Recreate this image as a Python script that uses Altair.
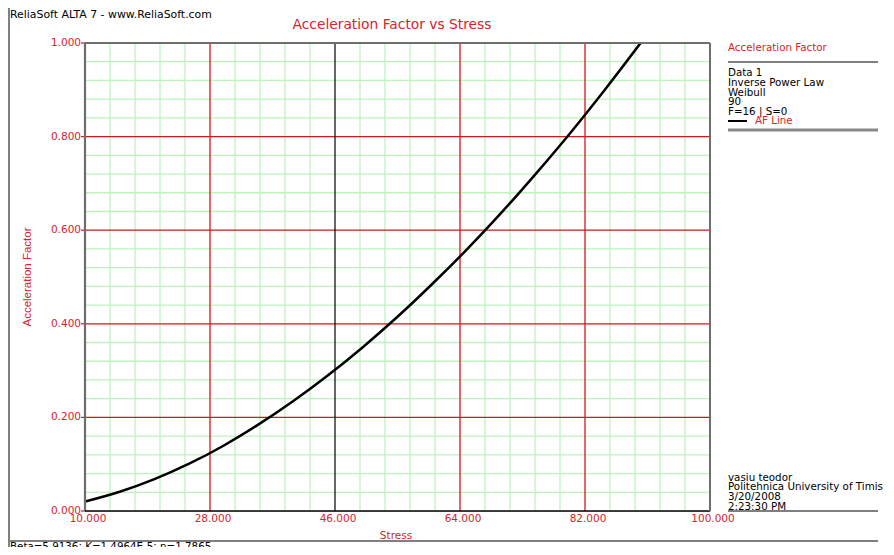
import altair as alt
import pandas as pd

# ---- data ----
stress = [10, 15, 20, 25, 30, 35, 40, 45, 50, 55, 60, 65, 70, 75, 80, 85, 90]
af = [0.020, 0.041, 0.068, 0.101, 0.140, 0.185, 0.235, 0.290, 0.350, 0.415,
      0.485, 0.559, 0.638, 0.722, 0.810, 0.903, 1.000]

x_ticks = [10, 28, 46, 64, 82, 100]
y_ticks = [0.0, 0.2, 0.4, 0.6, 0.8, 1.0]
x_major_red = [28, 64, 82]
x_major_black = [46]
x_minor = [13.6, 17.2, 20.8, 24.4, 31.6, 35.2, 38.8, 42.4, 49.6, 53.2, 56.8, 60.4,
           67.6, 71.2, 74.8, 78.4, 85.6, 89.2, 92.8, 96.4]
y_major = [0.2, 0.4, 0.6, 0.8]
y_minor = [0.04, 0.08, 0.12, 0.16, 0.24, 0.28, 0.32, 0.36, 0.44, 0.48, 0.52, 0.56,
           0.64, 0.68, 0.72, 0.76, 0.84, 0.88, 0.92, 0.96]

RED = "#d4242c"
GRID_RED = "#d01818"
GRID_GREEN = "#bdf3bd"
FONT = "DejaVu Sans"
FONT2 = "Liberation Sans"

xs = alt.Scale(domain=[10, 100], nice=False, zero=False)
ys = alt.Scale(domain=[0, 1], nice=False, zero=False)

def vrules(vals, color, width):
    return alt.Chart(pd.DataFrame({"gx": vals})).mark_rule(color=color, strokeWidth=width).encode(
        x=alt.X("gx:Q", scale=xs, axis=None))

def hrules(vals, color, width):
    return alt.Chart(pd.DataFrame({"gy": vals})).mark_rule(color=color, strokeWidth=width).encode(
        y=alt.Y("gy:Q", scale=ys, axis=None))

blank = alt.Data(values=[{}])

def label(text, x, y, color="black", size=10.3, font=FONT, align="left", angle=0, **kw):
    return alt.Chart(blank).mark_text(text=text, color=color, fontSize=size, font=font,
                                      align=align, baseline="middle", angle=angle, **kw).encode(
        x=alt.value(x), y=alt.value(y))

def hline(x1, x2, y, color="black", width=1.0):
    return alt.Chart(blank).mark_rule(color=color, strokeWidth=width).encode(
        x=alt.value(x1), x2=alt.value(x2), y=alt.value(y))

def vline(x, y1, y2, color="black", width=1.0):
    return alt.Chart(blank).mark_rule(color=color, strokeWidth=width).encode(
        x=alt.value(x), y=alt.value(y1), y2=alt.value(y2))

curve_df = pd.DataFrame({"Stress": stress, "AF": af})
curve = alt.Chart(curve_df).mark_line(color="black", strokeWidth=2.5, interpolate="monotone",
                                      clip=True).encode(
    x=alt.X("Stress:Q", scale=xs, axis=None),
    y=alt.Y("AF:Q", scale=ys, axis=None),
)

# tick labels and tick marks through the scales
x_lab = alt.Chart(pd.DataFrame({"v": x_ticks})).mark_text(
    color=RED, font=FONT, fontSize=10.5, align="center", baseline="middle", dx=3).encode(
    x=alt.X("v:Q", scale=xs, axis=None), y=alt.value(476), text=alt.Text("v:Q", format=".3f"))
y_lab = alt.Chart(pd.DataFrame({"v": y_ticks})).mark_text(
    color=RED, font=FONT, fontSize=10.5, align="right", baseline="middle").encode(
    y=alt.Y("v:Q", scale=ys, axis=None), x=alt.value(-4), text=alt.Text("v:Q", format=".3f"))
y_tk = alt.Chart(pd.DataFrame({"v": y_ticks})).mark_rule(color=RED, strokeWidth=1.3).encode(
    y=alt.Y("v:Q", scale=ys, axis=None), x=alt.value(-4), x2=alt.value(0))

layers = [
    vrules(x_minor, GRID_GREEN, 1.3),
    hrules(y_minor, GRID_GREEN, 1.3),
    vrules(x_major_red, GRID_RED, 1.3),
    hrules(y_major, GRID_RED, 1.3),
    vrules(x_major_black, "black", 1.2),
    curve,
    x_lab, y_lab, y_tk,
    # plot frame
    vline(0, 0, 468, "#6e6e6e", 2.2),
    hline(0, 625, 468, "black", 1.6),
    hline(0, 625, 0, "#6e6e6e", 2),
    vline(625, 0, 468, "#6e6e6e", 2),
    # outer frame
    vline(-76, -35, 504, "#808080", 2),
    hline(-77, 793, 498, "#808080", 2),
    # header / title
    label("ReliaSoft ALTA 7 - www.ReliaSoft.com", -75, -28.5, size=10.9),
    label("Acceleration Factor vs Stress", 307, -18, color=RED, size=13.8, align="center"),
    # axis titles
    label("Stress", 311, 493, color=RED, size=10.5, align="center"),
    label("Acceleration Factor", -57, 234, color=RED, size=11.5, font=FONT2, align="center", angle=270),
    # right panel
    label("Acceleration Factor", 643, 5, color=RED),
    hline(643, 793, 19, "black", 1.2),
    label("Data 1", 643, 30),
    label("Inverse Power Law", 643, 40),
    label("Weibull", 643, 50),
    label("90", 643, 59),
    label("F=16 | S=0", 643, 69),
    hline(643, 662, 78, "black", 2),
    label("AF Line", 670, 78, color=RED),
    hline(643, 793, 87, "#888888", 3),
    label("vasiu teodor", 643, 435),
    label("Politehnica University of Timisoara", 643, 444, limit=158, ellipsis="\u200b"),
    label("3/20/2008", 643, 454),
    label("2:23:30 PM", 643, 464),
    hline(643, 793, 468, "black", 1.2),
    label("Beta=5.9136; K=1.4964E-5; n=1.7865", -75, 504),
]

chart = alt.layer(*layers).properties(
    width=625, height=468,
    padding={"left": 77, "top": 35, "right": 176, "bottom": 36},
    autosize="none",
).configure_view(stroke=None).configure(background="white")

chart.save("out.html", embed_options={"renderer": "svg", "actions": False})
